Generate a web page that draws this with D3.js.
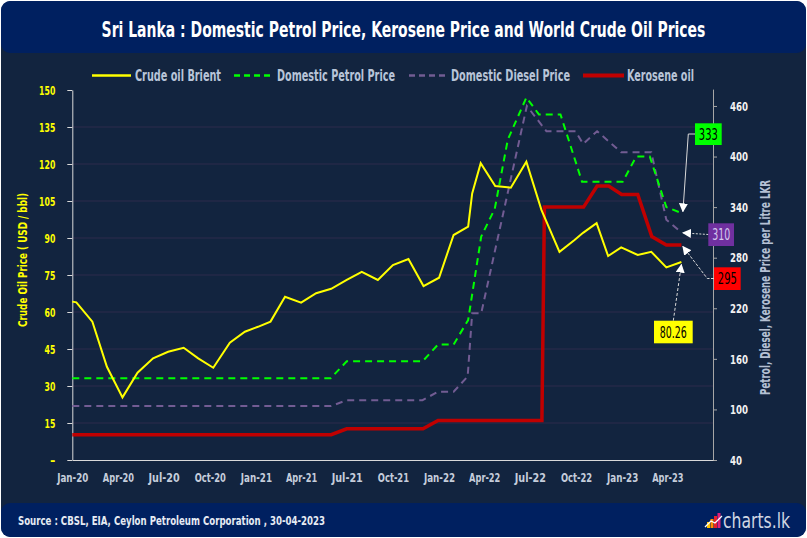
<!DOCTYPE html>
<html><head><meta charset="utf-8">
<script src="https://cdn.jsdelivr.net/npm/d3@7/dist/d3.min.js"></script>
<style>
html,body{margin:0;padding:0;background:#ffffff;}
svg{display:block;}
text{font-family:"Liberation Sans Narrow","DejaVu Sans Condensed","Roboto Condensed",Roboto,sans-serif;}
</style></head><body>
<svg id="chart" width="807" height="538"></svg>
<script>
// ---------------- DATA ----------------
const tickLabels = ["Jan-20","Apr-20","Jul-20","Oct-20","Jan-21","Apr-21","Jul-21","Oct-21",
                    "Jan-22","Apr-22","Jul-22","Oct-22","Jan-23","Apr-23"];
const leftTicks = [0,15,30,45,60,75,90,105,120,135,150];
const rightTicks = [40,100,160,220,280,340,400,460];

const crudeDates = ["2020-01-01","2020-01-09","2020-02-10","2020-03-10","2020-04-10","2020-05-10","2020-06-10",
  "2020-07-10","2020-08-10","2020-09-08","2020-10-08","2020-11-10","2020-12-10","2021-01-05","2021-01-30",
  "2021-02-28","2021-04-01","2021-05-01","2021-05-31","2021-07-01","2021-07-31","2021-09-01","2021-10-01",
  "2021-11-01","2021-12-01","2022-01-01","2022-01-30","2022-02-28","2022-03-08","2022-03-25","2022-04-23",
  "2022-05-24","2022-06-24","2022-07-24","2022-08-29","2022-09-28","2022-10-15","2022-11-11","2022-12-04",
  "2022-12-30","2023-02-01","2023-02-28","2023-03-30","2023-04-29"];
const crudeValues = [64.2,63.9,56.1,37.8,25.4,35.4,41.2,43.9,45.5,41.2,37.4,47.6,52.0,54.0,56.1,
  66.2,63.8,67.6,69.4,73.0,76.3,73.0,79.0,81.5,70.5,73.9,91.2,94.6,108.1,120.3,111.1,
  110.4,120.9,101.4,84.4,89.2,92.1,96.0,82.7,86.2,83.1,84.4,78.1,80.26];

const petrolDates = ["2020-01-01","2021-05-30","2021-07-01","2021-11-29","2021-12-30","2022-01-30","2022-02-28",
  "2022-03-26","2022-04-22","2022-05-18","2022-06-24","2022-07-19","2022-08-31","2022-10-13","2023-01-02",
  "2023-01-29","2023-02-25","2023-03-30","2023-04-29"];
const petrolValues = [137,137,157,157,177,177,206,305,338,420,470,450,450,370,370,400,400,340,333];

const dieselDates = ["2020-01-01","2021-05-31","2021-07-01","2021-11-29","2021-12-30","2022-01-30","2022-02-27",
  "2022-03-08","2022-03-26","2022-06-25","2022-08-03","2022-09-30","2022-10-15","2022-11-12","2022-12-30",
  "2023-02-28","2023-03-30","2023-04-29"];
const dieselValues = [104,104,111,111,121,121,139,214,214,460,430,430,415,430,405,405,325,310];

const keroseneDates = ["2020-01-01","2021-05-31","2021-07-01","2021-11-30","2021-12-30","2022-07-25","2022-07-30",
  "2022-10-16","2022-11-12","2022-12-05","2022-12-31","2023-02-01","2023-03-01","2023-03-30","2023-04-29"];
const keroseneValues = [70,70,77,77,87,87,340,340,365,365,355,355,305,295,295];

const seriesNames = ["Crude oil Brient","Domestic Petrol Price","Domestic Diesel Price","Kerosene oil"];

// ---------------- SETUP ----------------
const parse = d3.timeParse("%Y-%m-%d");
const parseTick = d3.timeParse("%b-%y");
const svg = d3.select("#chart");
const W = 807, H = 538;
const plot = {left:72.3, right:713, top:90, bottom:460};
const NARROW = '"Liberation Sans Narrow","DejaVu Sans Condensed",sans-serif';

function squeeze(sel, perChar){
  sel.each(function(){
    const t = this.textContent;
    d3.select(this).attr("textLength", Math.max(t.length*perChar, 4)).attr("lengthAdjust","spacingAndGlyphs");
  });
}

const BODY = "#12243f", HEAD = "#002060";
// card
svg.append("rect").attr("x",1).attr("y",1).attr("width",W-2).attr("height",H-2).attr("rx",10).attr("fill",BODY);
svg.append("rect").attr("x",1).attr("y",1).attr("width",W-2).attr("height",52).attr("rx",9).attr("fill",HEAD);
svg.append("rect").attr("x",1).attr("y",503).attr("width",W-2).attr("height",34).attr("rx",9).attr("fill",HEAD);

// title (condensed via horizontal scale)
svg.append("text").attr("transform","translate(403.5,30) scale(0.74,1)").attr("text-anchor","middle")
  .attr("dominant-baseline","central")
  .attr("fill","#ffffff").attr("font-size",21).attr("font-weight","bold")
  .text("Sri Lanka : Domestic Petrol Price, Kerosene Price and World Crude Oil Prices");

// scales
const x = d3.scaleTime().domain([new Date(2020,0,1), new Date(2023,6,1)]).range([plot.left, plot.right]);
const yL = d3.scaleLinear().domain([0,150]).range([plot.bottom, plot.top]);
const yR = d3.scaleLinear().domain([40,480]).range([plot.bottom, 89.1]);

// gridlines
svg.append("g").selectAll("line").data(leftTicks.filter(d => d>0 && d<150)).join("line")
  .attr("x1",plot.left).attr("x2",plot.right).attr("y1",d=>yL(d)).attr("y2",d=>yL(d))
  .attr("stroke","#2c2b4d").attr("stroke-width",1);

// left axis
const gL = svg.append("g").attr("transform",`translate(${plot.left},0)`)
  .call(d3.axisLeft(yL).tickValues(leftTicks).tickFormat(d => d===0 ? "-" : d).tickSize(5).tickSizeOuter(0).tickPadding(12));
gL.select(".domain").attr("stroke","#d9d9d9");
gL.selectAll(".tick line").attr("stroke","#d9d9d9");
gL.selectAll(".tick text").attr("fill","#ffff00").attr("font-size",13).attr("font-weight","bold")
  .style("font-family",NARROW).call(squeeze,5.4);

// right axis
const gR = svg.append("g").attr("transform",`translate(${plot.right},0)`)
  .call(d3.axisRight(yR).tickValues(rightTicks).tickSize(4).tickSizeOuter(0).tickPadding(13));
gR.select(".domain").attr("stroke","#a6a6a6");
gR.selectAll(".tick line").attr("stroke","#a6a6a6");
gR.selectAll(".tick text").attr("fill","#f2f2f2").attr("font-size",13).attr("font-weight","bold")
  .style("font-family",NARROW).call(squeeze,6);

// bottom axis
const gB = svg.append("g").attr("transform",`translate(0,${plot.bottom})`)
  .call(d3.axisBottom(x).tickValues(tickLabels.map(parseTick)).tickFormat(d3.timeFormat("%b-%y")).tickSize(0).tickSizeOuter(0).tickPadding(13));
gB.select(".domain").attr("stroke","#d9d9d9");
gB.selectAll(".tick text").attr("fill","#c5cddb").attr("font-size",13).attr("font-weight","bold")
  .style("font-family",NARROW).call(squeeze,5.2);

// axis titles
svg.append("text").attr("transform","translate(22,260) rotate(-90)").attr("text-anchor","middle")
  .attr("dominant-baseline","central").attr("fill","#ffff00").attr("font-size",13).attr("font-weight","bold")
  .attr("textLength",134).attr("lengthAdjust","spacingAndGlyphs")
  .text("Crude Oil  Price ( USD / bbl)");
svg.append("text").attr("transform","translate(765,287.5) rotate(-90)").attr("text-anchor","middle")
  .attr("dominant-baseline","central").attr("fill","#b4c0d4").attr("font-size",13.5).attr("font-weight","bold")
  .attr("textLength",215).attr("lengthAdjust","spacingAndGlyphs")
  .text("Petrol, Diesel, Kerosene Price per Litre LKR");

// series
const series = [
  {name:seriesNames[0], dates:crudeDates, values:crudeValues, y:yL, color:"#ffff00", width:2, dash:null},
  {name:seriesNames[1], dates:petrolDates, values:petrolValues, y:yR, color:"#00ff00", width:2, dash:"7,5"},
  {name:seriesNames[2], dates:dieselDates, values:dieselValues, y:yR, color:"#725c93", width:2, dash:"7,5"},
  {name:seriesNames[3], dates:keroseneDates, values:keroseneValues, y:yR, color:"#c00000", width:3.5, dash:null}
];
const drawOrder = [2,1,3,0];
drawOrder.forEach(i => {
  const s = series[i];
  const pts = s.dates.map((d,k) => [parse(d), s.values[k]]);
  const line = d3.line().x(p => x(p[0])).y(p => s.y(p[1]));
  svg.append("path").attr("d", line(pts)).attr("fill","none").attr("stroke",s.color)
    .attr("stroke-width",s.width).attr("stroke-dasharray",s.dash).attr("stroke-linejoin","miter");
});

// legend
const legendItems = [
  {x1:92,x2:131,tx:135,tw:86},
  {x1:234,x2:274,tx:277,tw:118},
  {x1:409,x2:449,tx:451,tw:119},
  {x1:583,x2:624,tx:627,tw:67}
];
const gLeg = svg.append("g");
legendItems.forEach((it,i) => {
  const s = series[i];
  gLeg.append("line").attr("x1",it.x1).attr("x2",it.x2).attr("y1",75.5).attr("y2",75.5)
    .attr("stroke",s.color).attr("stroke-width", i===3 ? 4 : 2.5).attr("stroke-dasharray", s.dash ? "6,4" : null);
  gLeg.append("text").attr("x",it.tx).attr("y",75.5).attr("dominant-baseline","central")
    .attr("fill","#b8c4d8").attr("font-size",15).attr("font-weight","bold")
    .attr("textLength",it.tw).attr("lengthAdjust","spacingAndGlyphs").text(s.name);
});

// callouts
const defs = svg.append("defs");
defs.append("marker").attr("id","arr").attr("viewBox","0 0 10 10").attr("refX",9).attr("refY",5)
  .attr("markerWidth",9).attr("markerHeight",9).attr("markerUnits","userSpaceOnUse").attr("orient","auto")
  .append("path").attr("d","M0,0 L10,5 L0,10 z").attr("fill","#ffffff");

function lastPoint(s){ const n=s.dates.length-1; return [x(parse(s.dates[n])), s.y(s.values[n]), s.values[n]]; }
const callouts = [
  {s:series[1], box:[695,123.3,26.7,21.7], fill:"#00ff00", tc:"#000000", from:[[695,134],[688.3,134]], off:[1.5,-1.5], dash:null, fmt:d3.format("d"), tw:19},
  {s:series[2], box:[708.3,223.3,25.7,22.7], fill:"#7030a0", tc:"#d6c8ee", from:[[708.3,234.5]], off:[1.5,0.5], dash:"2,1.5", fmt:d3.format("d"), tw:18},
  {s:series[3], box:[714,267.3,26.7,22.7], fill:"#ff0000", tc:"#000000", from:[[714,278.5],[707.3,278.5]], off:[1.5,1.5], dash:"3,1.5", fmt:d3.format("d"), tw:19},
  {s:series[0], box:[654,320.7,38.7,22.6], fill:"#ffff00", tc:"#000000", from:[[673.3,320.7]], off:[0,2.5], dash:"3,2", fmt:d3.format(".2f"), tw:27}
];
callouts.forEach(c => {
  const lp = lastPoint(c.s);
  const pts = c.from.concat([[lp[0]+c.off[0], lp[1]+c.off[1]]]);
  svg.append("path").attr("d", d3.line()(pts)).attr("fill","none").attr("stroke","#d9d9d9")
    .attr("stroke-width",1).attr("stroke-dasharray",c.dash).attr("marker-end","url(#arr)");
  svg.append("rect").attr("x",c.box[0]).attr("y",c.box[1]).attr("width",c.box[2]).attr("height",c.box[3]).attr("fill",c.fill);
  svg.append("text").attr("x",c.box[0]+c.box[2]/2).attr("y",c.box[1]+c.box[3]/2+0.5).attr("text-anchor","middle")
    .attr("dominant-baseline","central").attr("fill",c.tc).attr("font-size",15)
    .attr("textLength",c.tw).attr("lengthAdjust","spacingAndGlyphs").text(c.fmt(lp[2]));
});

// footer
svg.append("text").attr("x",18).attr("y",520).attr("dominant-baseline","central").attr("fill","#e6ebf3")
  .attr("font-size",13).attr("font-weight","bold").attr("textLength",307).attr("lengthAdjust","spacingAndGlyphs")
  .text("Source : CBSL, EIA, Ceylon Petroleum Corporation , 30-04-2023");
// logo
const logo = svg.append("g");
const logoBars = [{c:"#ffc000",h:6},{c:"#ff8c00",h:9},{c:"#e8202a",h:12},{c:"#e0207a",h:15}];
logoBars.forEach((b,i) => logo.append("rect").attr("x",707+i*3.5).attr("y",528-b.h).attr("width",3).attr("height",b.h).attr("fill",b.c));
logo.append("path").attr("d","M705,527 L711,521 L715,523 L722,516").attr("fill","none").attr("stroke","#ffffff").attr("stroke-width",1.3);
logo.append("text").attr("x",723).attr("y",521).attr("dominant-baseline","central").attr("fill","#d0d7e3")
  .attr("font-size",21).attr("textLength",67).attr("lengthAdjust","spacingAndGlyphs").text("charts.lk");
</script>
</body></html>
